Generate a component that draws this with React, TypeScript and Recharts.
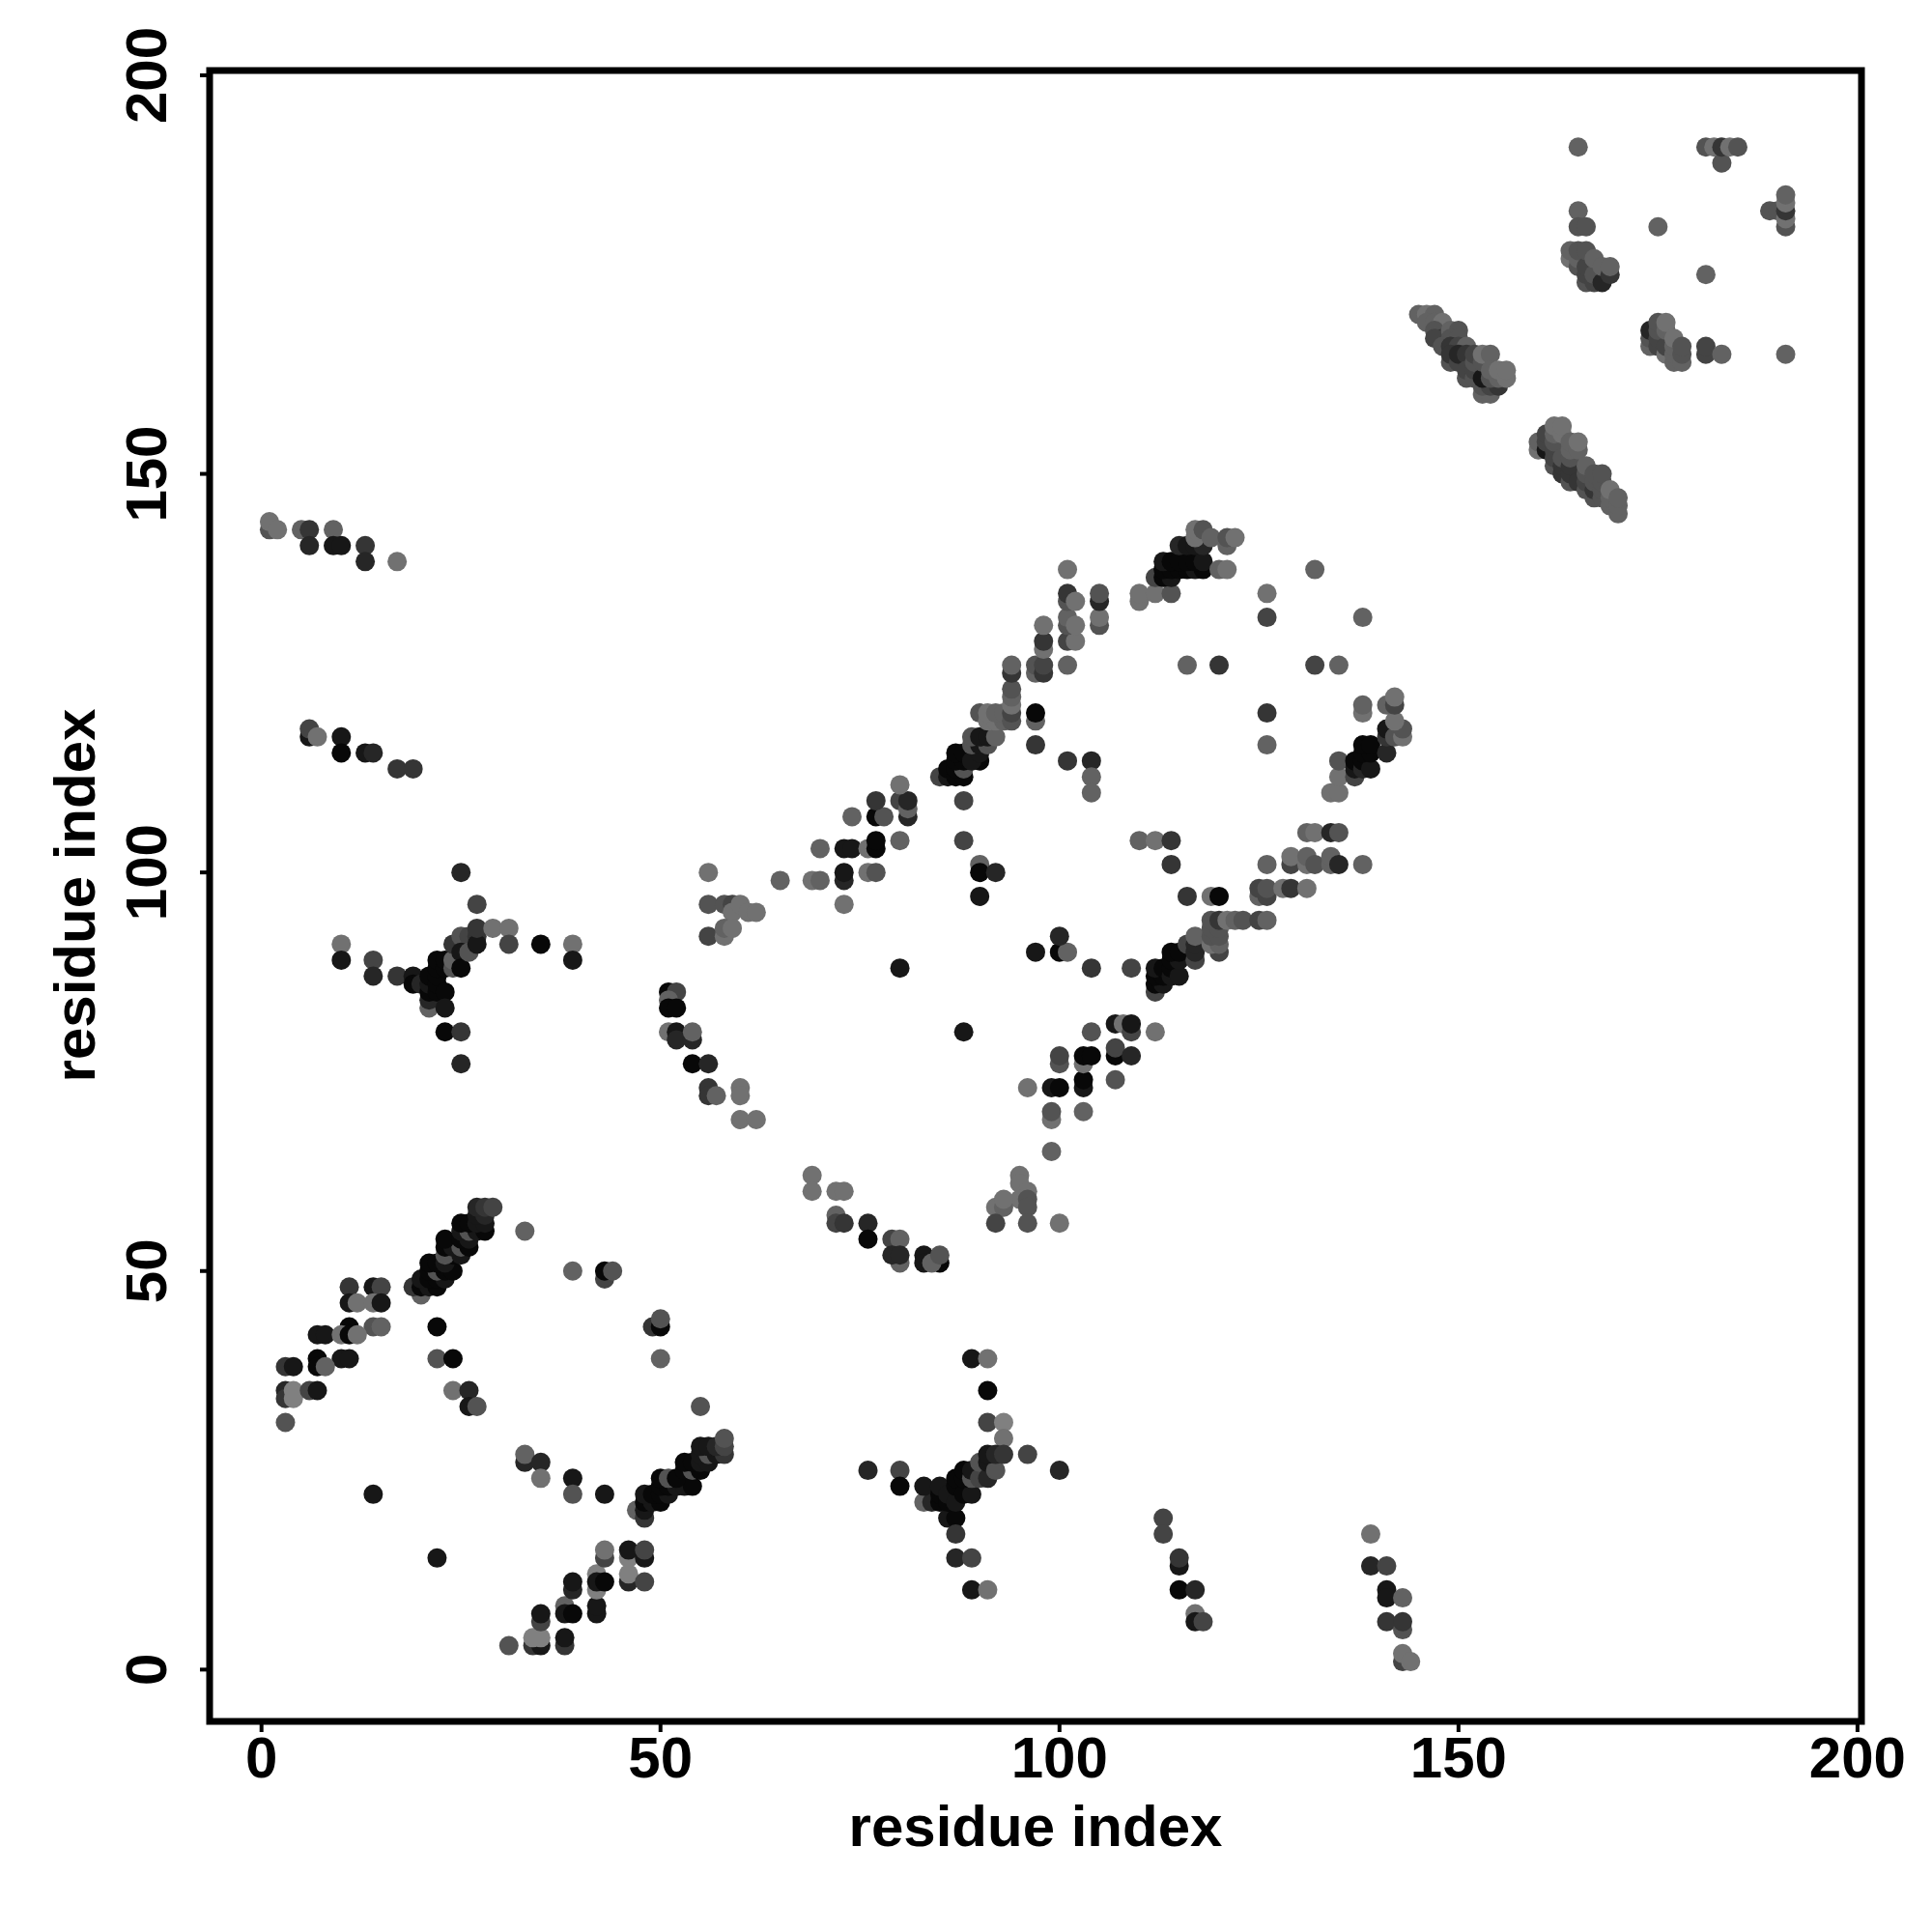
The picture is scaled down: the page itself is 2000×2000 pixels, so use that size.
import { ReferenceArea, Scatter, ScatterChart, XAxis, YAxis } from "recharts";

// each point is [residue x, residue y, shade]; shade 0 is black, 8 is the lightest grey
type Contact = [number, number, number];

const xTicks = [0, 50, 100, 150, 200];
const yTicks = [0, 50, 100, 150, 200];
const xDomain: [number, number] = [-6.5, 200.5];
const yDomain: [number, number] = [-6.5, 200.6];

const topLeftRows: Contact[] = [
  [1, 143, 5], [1, 144, 7], [2, 143, 7], [5, 143, 6], [6, 143, 3], [9, 143, 6], [6, 141, 2], [9, 141, 1], [10, 141, 1],
  [13, 141, 3], [13, 139, 2], [17, 139, 7], [6, 117, 1], [6, 118, 4], [7, 117, 7], [10, 117, 1], [10, 115, 0], [13, 115, 1],
  [14, 115, 2], [17, 113, 3], [19, 113, 3],
];

const crossLeft: Contact[] = [
  [25, 100, 2], [27, 96, 4], [10, 91, 7], [10, 89, 1], [14, 89, 4], [14, 87, 2], [17, 87, 3], [19, 87, 1], [19, 86, 0], [20, 86, 2],
  [21, 83, 6], [21, 84, 2], [21, 85, 0], [21, 86, 1], [21, 87, 0], [22, 85, 0], [22, 86, 0], [22, 87, 0], [22, 88, 0], [22, 89, 0],
  [23, 88, 0], [23, 89, 0], [24, 88, 5], [24, 89, 6], [23, 85, 0], [23, 83, 1], [23, 80, 0], [25, 80, 3], [25, 76, 2],
  [24, 91, 3], [25, 92, 5], [26, 92, 4], [27, 92, 3], [25, 90, 1], [25, 88, 0], [26, 90, 5], [27, 91, 1], [27, 93, 3], [29, 93, 7],
  [31, 93, 7], [31, 91, 4], [35, 91, 0], [39, 91, 7], [39, 89, 1],
];

const arcUpperLeft: Contact[] = [
  [56, 100, 7], [56, 96, 5], [58, 96, 5], [59, 96, 4], [59, 95, 7], [60, 96, 7], [61, 95, 7], [62, 95, 7], [65, 99, 6],
  [56, 92, 4], [58, 92, 7], [58, 93, 6], [59, 93, 7], [69, 99, 7], [70, 99, 6], [73, 99, 2], [73, 100, 1], [73, 96, 7],
  [70, 103, 6], [73, 103, 1], [74, 103, 1], [76, 103, 7], [77, 103, 0], [77, 104, 0], [76, 100, 7], [77, 100, 5], [80, 104, 6],
  [74, 107, 6], [77, 107, 0], [78, 107, 5], [77, 109, 3], [80, 109, 4], [81, 107, 2], [81, 108, 6], [81, 109, 2], [80, 111, 7],
  [88, 109, 4], [88, 104, 4], [90, 101, 6], [90, 100, 0], [92, 100, 2], [90, 97, 1], [80, 88, 1], [88, 80, 1],
];

const arcLeftDown: Contact[] = [
  [51, 85, 0], [52, 85, 4], [51, 84, 6], [51, 83, 0], [52, 83, 0], [51, 80, 7], [52, 80, 1], [52, 79, 2], [54, 79, 2], [54, 80, 6],
  [54, 76, 0], [56, 76, 2], [56, 73, 3], [56, 72, 3], [57, 72, 6], [60, 73, 7], [60, 72, 7], [60, 69, 7], [62, 69, 7],
];

const arcBottom: Contact[] = [
  [69, 62, 7], [69, 60, 7], [72, 60, 7], [73, 60, 7], [72, 57, 6], [72, 56, 4], [73, 56, 3], [76, 56, 2], [76, 54, 0], [79, 54, 4],
  [80, 54, 6], [80, 51, 6], [79, 52, 2], [80, 52, 2], [83, 52, 1], [83, 51, 1], [85, 51, 0], [84, 51, 6], [85, 52, 5],
  [95, 62, 7], [95, 61, 7], [96, 60, 7], [95, 59, 7], [96, 59, 5], [96, 58, 5], [92, 58, 7], [93, 58, 6], [93, 59, 7],
  [92, 56, 4], [96, 56, 5], [100, 56, 7],
];

const diagonalMiddle: Contact[] = [
  [99, 65, 6], [99, 69, 7], [99, 70, 5], [103, 70, 6], [96, 73, 7], [99, 73, 1], [100, 73, 0], [103, 73, 1], [103, 74, 0],
  [100, 76, 5], [100, 77, 4], [103, 76, 7], [103, 77, 0], [104, 77, 0], [107, 74, 5], [107, 77, 0], [107, 78, 4], [109, 77, 2],
  [104, 80, 5], [107, 81, 1], [108, 81, 7], [109, 80, 4], [109, 81, 1], [112, 80, 7], [97, 90, 1], [100, 90, 0], [101, 90, 6], [100, 92, 2],
  [104, 88, 3], [109, 88, 4], [112, 85, 4], [112, 86, 0], [113, 86, 1], [112, 87, 0], [113, 87, 0], [112, 88, 1], [113, 88, 0],
  [114, 87, 1], [114, 88, 0], [115, 87, 1], [114, 89, 0], [115, 89, 1], [114, 90, 0], [115, 90, 0], [116, 91, 4], [117, 89, 4], [117, 90, 2],
  [117, 91, 2], [117, 92, 6], [120, 90, 4], [119, 91, 7], [120, 91, 6], [119, 92, 5], [120, 92, 5], [119, 93, 5], [120, 93, 5],
  [119, 94, 5], [120, 94, 3], [121, 94, 7], [122, 94, 6], [123, 94, 5], [125, 94, 4], [126, 94, 6],
  [116, 97, 3], [119, 97, 7], [120, 97, 0], [125, 97, 6], [126, 97, 4], [125, 98, 4], [126, 98, 5], [128, 98, 7], [129, 98, 3], [131, 98, 7],
  [126, 101, 6], [129, 101, 4], [129, 102, 7], [131, 101, 7], [131, 102, 6], [132, 101, 5], [134, 101, 6], [134, 102, 6], [135, 101, 2],
  [138, 101, 6], [131, 105, 6], [132, 105, 7], [134, 105, 2], [135, 105, 5], [110, 104, 6], [112, 104, 7], [114, 104, 3], [114, 101, 3],
];

const strandRight: Contact[] = [
  [134, 110, 7], [135, 110, 7], [135, 112, 7], [135, 114, 5], [137, 112, 4], [137, 113, 1], [137, 114, 0], [138, 113, 2], [138, 114, 0],
  [139, 113, 1], [138, 115, 0], [139, 115, 0], [138, 116, 0], [139, 116, 0], [141, 115, 2], [141, 117, 3], [141, 118, 1],
  [142, 117, 5], [143, 117, 7], [143, 118, 5], [142, 119, 7], [138, 120, 7], [138, 121, 6], [141, 121, 6], [142, 121, 4], [142, 122, 7],
];

const centreRight: Contact[] = [
  [101, 114, 3], [104, 114, 2], [104, 112, 6], [104, 110, 6], [97, 116, 3], [97, 119, 6], [97, 120, 0], [126, 120, 3], [126, 116, 6],
  [116, 126, 6], [120, 126, 3], [132, 126, 4], [135, 126, 6], [126, 135, 7], [126, 132, 4], [138, 132, 6], [132, 138, 6],
];

const strandUpper: Contact[] = [
  [85, 112, 4], [86, 112, 1], [86, 113, 0], [87, 112, 0], [88, 112, 0], [87, 113, 0], [88, 113, 5], [87, 114, 0], [88, 114, 0], [87, 115, 0],
  [88, 115, 0], [90, 114, 0], [89, 114, 1], [90, 115, 1], [89, 116, 5], [90, 116, 1], [91, 116, 5], [89, 117, 5], [90, 117, 1], [91, 117, 1],
  [92, 117, 6], [90, 120, 5], [91, 119, 7], [92, 119, 7], [93, 119, 6], [91, 120, 7], [92, 120, 6], [93, 120, 6], [94, 119, 5],
  [94, 120, 4], [94, 121, 7], [94, 122, 6], [94, 123, 5], [94, 125, 3], [94, 126, 6], [97, 125, 6], [97, 126, 5], [98, 125, 3], [98, 126, 4],
  [101, 126, 6], [98, 128, 7], [98, 129, 3], [98, 131, 7], [101, 129, 4], [102, 129, 7], [101, 131, 5], [101, 132, 6], [102, 131, 7],
  [101, 134, 5], [101, 135, 3], [102, 134, 7], [101, 138, 7], [105, 131, 5], [105, 132, 7], [105, 134, 2], [105, 135, 5],
  [110, 134, 7], [110, 135, 7], [112, 135, 7], [114, 135, 5], [112, 137, 4], [113, 137, 0], [114, 137, 1], [113, 138, 0], [114, 138, 0],
  [115, 138, 0], [116, 138, 0], [117, 138, 1], [118, 138, 0], [113, 139, 1], [114, 139, 0], [115, 139, 0], [116, 139, 0], [117, 139, 0], [118, 139, 1],
  [115, 141, 2], [116, 141, 1], [117, 141, 1], [118, 141, 2], [117, 142, 7], [117, 143, 7], [118, 143, 5], [119, 142, 6],
  [120, 138, 6], [121, 138, 7], [121, 141, 6], [121, 142, 5], [122, 142, 7],
];

const bandBottomLeft: Contact[] = [
  [20, 47, 6], [19, 48, 3], [20, 48, 0], [21, 48, 1], [22, 48, 0], [20, 49, 1], [21, 49, 0], [22, 49, 0], [23, 49, 1], [21, 50, 0], [22, 50, 5],
  [23, 50, 0], [24, 50, 0], [21, 51, 0], [22, 51, 0], [23, 51, 1], [24, 52, 0], [23, 52, 5], [25, 52, 1], [23, 53, 0], [24, 53, 1], [25, 53, 5], [26, 53, 0],
  [23, 54, 0], [25, 54, 0], [26, 54, 1], [25, 55, 1], [26, 55, 5], [27, 55, 1], [28, 55, 0], [25, 56, 0], [26, 56, 0], [27, 56, 1], [28, 56, 1],
  [27, 57, 1], [28, 57, 2], [27, 58, 2], [28, 58, 3], [29, 58, 4], [33, 55, 6],
];

const leftLadder: Contact[] = [
  [11, 48, 3], [14, 48, 1], [15, 48, 4], [11, 46, 1], [12, 46, 7], [14, 46, 7], [15, 46, 1], [11, 43, 0], [14, 43, 5], [15, 43, 6],
  [7, 42, 1], [8, 42, 1], [10, 42, 7], [11, 42, 0], [12, 42, 7], [7, 39, 0], [10, 39, 1], [11, 39, 1], [3, 38, 3], [4, 38, 1], [7, 38, 0], [8, 38, 6],
  [3, 35, 2], [3, 34, 3], [4, 35, 8], [4, 34, 8], [6, 35, 4], [7, 35, 1], [3, 31, 5], [22, 43, 0], [22, 39, 5], [24, 39, 0], [24, 35, 7],
  [26, 35, 2], [26, 33, 1], [27, 33, 5], [14, 22, 1], [22, 14, 1],
];

const bottomLoop: Contact[] = [
  [39, 50, 6], [43, 49, 4], [43, 50, 0], [44, 50, 5], [49, 43, 3], [50, 43, 0], [50, 44, 5], [50, 39, 6], [55, 33, 5], [33, 26, 2], [33, 27, 6],
  [35, 26, 2], [35, 24, 7], [39, 24, 1], [39, 22, 5], [43, 22, 1],
];

const bandBottomMiddle: Contact[] = [
  [47, 20, 6], [48, 19, 3], [48, 20, 1], [48, 21, 0], [49, 21, 1], [50, 21, 0], [48, 22, 1], [49, 22, 0], [50, 22, 0], [51, 22, 1], [50, 23, 0],
  [51, 23, 0], [52, 23, 1], [53, 23, 1], [54, 23, 0], [50, 24, 0], [51, 24, 5], [52, 24, 0], [53, 25, 0], [54, 25, 5], [55, 25, 0], [53, 26, 0],
  [54, 26, 0], [55, 26, 1], [56, 26, 1], [55, 27, 1], [56, 27, 5], [57, 27, 1], [58, 27, 3], [55, 28, 1], [56, 28, 1], [57, 28, 2], [58, 28, 4], [58, 29, 5],
];

const strandBottomLeft: Contact[] = [
  [31, 3, 5], [34, 3, 3], [35, 3, 1], [34, 4, 8], [35, 4, 8], [35, 6, 4], [35, 7, 1], [38, 3, 3], [38, 4, 1], [38, 8, 6], [38, 7, 1], [39, 7, 0],
  [39, 10, 2], [39, 11, 1], [42, 7, 1], [42, 8, 1], [42, 10, 8], [42, 12, 8], [42, 11, 1], [43, 11, 0], [43, 14, 4], [43, 15, 7], [46, 14, 8],
  [46, 15, 1], [46, 11, 2], [46, 12, 8], [48, 11, 4], [48, 14, 1], [48, 15, 4],
];

const crossBottom: Contact[] = [
  [89, 39, 1], [91, 39, 7], [91, 35, 0], [91, 31, 4], [93, 31, 8], [93, 29, 7], [96, 27, 4], [100, 25, 2], [76, 25, 2], [80, 25, 4], [80, 23, 0],
  [83, 21, 6], [84, 21, 2], [83, 23, 1], [85, 21, 0], [85, 22, 0], [85, 23, 1], [86, 19, 1], [86, 21, 0], [86, 22, 1], [87, 19, 0], [87, 21, 1],
  [87, 23, 0], [87, 24, 0], [88, 22, 0], [89, 22, 1], [88, 24, 0], [88, 25, 0], [89, 24, 5], [89, 25, 1], [90, 24, 4], [90, 26, 5], [91, 24, 2], [91, 26, 1],
  [92, 25, 5], [91, 27, 1], [92, 27, 2], [93, 27, 3], [87, 17, 3], [87, 14, 2], [89, 14, 4], [89, 10, 1], [91, 10, 7],
];

const lowerRightStrands: Contact[] = [
  [113, 19, 4], [113, 17, 4], [115, 13, 1], [115, 14, 3], [115, 10, 0], [117, 10, 2], [117, 7, 7], [117, 6, 1], [118, 6, 4], [139, 17, 7],
  [139, 13, 2], [141, 13, 4], [141, 10, 1], [141, 9, 1], [143, 9, 6], [141, 6, 3], [143, 5, 5], [143, 6, 3], [143, 1, 4], [143, 2, 7], [144, 1, 7],
];

const upperDiagonalA: Contact[] = [
  [145, 170, 6], [146, 170, 7], [147, 170, 6], [146, 169, 6], [147, 169, 6], [148, 169, 7], [147, 168, 5], [148, 167, 3], [147, 167, 4], [149, 168, 6],
  [150, 168, 5], [149, 167, 5], [150, 167, 5], [148, 166, 5], [149, 166, 3], [150, 166, 4], [151, 166, 6], [149, 164, 5], [149, 165, 3], [150, 164, 4],
  [150, 165, 2], [151, 165, 3], [151, 162, 5], [151, 163, 4], [152, 162, 5], [152, 163, 4], [152, 164, 5], [152, 165, 4], [153, 160, 6], [154, 160, 6], [153, 161, 5],
  [154, 161, 4], [155, 161, 3], [153, 162, 1], [154, 162, 5], [153, 164, 5], [153, 165, 7], [154, 165, 6], [154, 163, 6], [155, 162, 6], [155, 163, 7], [156, 162, 7], [156, 163, 7],
];

const upperDiagonalB: Contact[] = [
  [160, 153, 7], [160, 154, 6], [161, 153, 1], [161, 154, 4], [161, 155, 4], [162, 151, 5], [162, 152, 4], [162, 153, 4], [162, 154, 5], [162, 155, 6],
  [162, 156, 7], [163, 150, 3], [163, 151, 3], [163, 152, 5], [163, 155, 7], [163, 156, 7], [164, 149, 5], [164, 150, 3], [164, 151, 3], [164, 152, 5],
  [164, 153, 6], [164, 154, 6], [165, 149, 3], [165, 153, 6], [165, 154, 7], [166, 148, 5], [166, 149, 4], [166, 150, 5], [166, 151, 6], [167, 147, 5], [167, 148, 3],
  [167, 149, 5], [167, 150, 5], [168, 147, 5], [168, 148, 5], [168, 149, 5], [168, 150, 5], [169, 146, 6], [169, 147, 6], [169, 148, 7], [170, 145, 6], [170, 146, 6], [170, 147, 6],
];

const upperRightClusters: Contact[] = [
  [165, 191, 6], [181, 191, 5], [182, 191, 7], [183, 189, 5], [183, 191, 3], [184, 191, 7], [185, 191, 5], [189, 183, 5], [190, 183, 5], [191, 181, 5],
  [191, 182, 7], [191, 183, 3], [191, 184, 7], [191, 185, 6], [165, 183, 6], [165, 181, 5], [166, 181, 5], [175, 181, 6], [181, 175, 6],
  [164, 177, 7], [164, 178, 6], [165, 176, 5], [165, 177, 6], [165, 178, 5], [166, 174, 5], [166, 175, 4], [166, 176, 4], [166, 178, 5], [167, 174, 4],
  [167, 175, 5], [167, 177, 6], [168, 174, 2], [168, 176, 6], [169, 175, 3], [169, 176, 6],
  [174, 166, 6], [174, 167, 5], [174, 168, 2], [175, 166, 4], [175, 167, 4], [175, 168, 5], [175, 169, 5], [176, 165, 7], [176, 166, 4], [176, 168, 6], [176, 169, 7],
  [177, 164, 6], [177, 165, 6], [177, 166, 6], [177, 167, 7], [178, 164, 6], [178, 165, 5], [178, 166, 5], [181, 165, 4], [181, 166, 4], [183, 165, 6], [191, 165, 6],
];

const contacts = [
  ...topLeftRows, ...crossLeft, ...arcUpperLeft, ...arcLeftDown, ...arcBottom, ...diagonalMiddle, ...strandRight, ...centreRight, ...strandUpper,
  ...bandBottomLeft, ...leftLadder, ...bottomLoop, ...bandBottomMiddle, ...strandBottomLeft, ...crossBottom, ...lowerRightStrands,
  ...upperDiagonalA, ...upperDiagonalB, ...upperRightClusters,
].map(([x, y, shade]) => ({ x, y, shade }));

const FONT = { fontFamily: "'Liberation Sans', Arial, sans-serif", fontWeight: 700, fontSize: 60, fill: "#000" };

function shadeColor(shade: number) {
  const v = shade * 15 + 8;
  return `rgb(${v},${v},${v})`;
}

function Dot(props: any) {
  return <circle cx={props.cx} cy={props.cy} r={10} fill={shadeColor(props.payload.shade)} />;
}

function XTick({ x, payload }: any) {
  return (
    <text x={x} y={1840} textAnchor="middle" {...FONT}>
      {payload.value}
    </text>
  );
}

function YTick({ y, payload }: any) {
  return (
    <text x={172} y={y} textAnchor="middle" transform={`rotate(-90 172 ${y})`} {...FONT}>
      {payload.value}
    </text>
  );
}

export default function App() {
  return (
    <div style={{ position: "absolute", left: 0, top: 0, width: 2000, height: 2000, background: "#fff" }}>
      <ScatterChart width={2000} height={2000} margin={{ top: 73, right: 73, left: 0, bottom: 0 }}>
        <XAxis
          type="number"
          dataKey="x"
          domain={xDomain}
          ticks={xTicks}
          allowDataOverflow
          height={218}
          tick={XTick}
          tickSize={11}
          axisLine={false}
          tickLine={{ stroke: "#000", strokeWidth: 4 }}
          label={{
            content: () => (
              <text x={1072} y={1911} textAnchor="middle" {...FONT}>
                residue index
              </text>
            ),
          }}
        />
        <YAxis
          type="number"
          dataKey="y"
          domain={yDomain}
          ticks={yTicks}
          allowDataOverflow
          width={217}
          tick={YTick}
          tickSize={10}
          axisLine={false}
          tickLine={{ stroke: "#000", strokeWidth: 4 }}
          label={{
            content: () => (
              <text x={98} y={927} textAnchor="middle" transform="rotate(-90 98 927)" {...FONT}>
                residue index
              </text>
            ),
          }}
        />
        <Scatter data={contacts} shape={Dot} isAnimationActive={false} />
        <ReferenceArea x1={xDomain[0]} x2={xDomain[1]} y1={yDomain[0]} y2={yDomain[1]} fill="none" stroke="#000" strokeWidth={7} strokeOpacity={1} />
      </ScatterChart>
    </div>
  );
}
